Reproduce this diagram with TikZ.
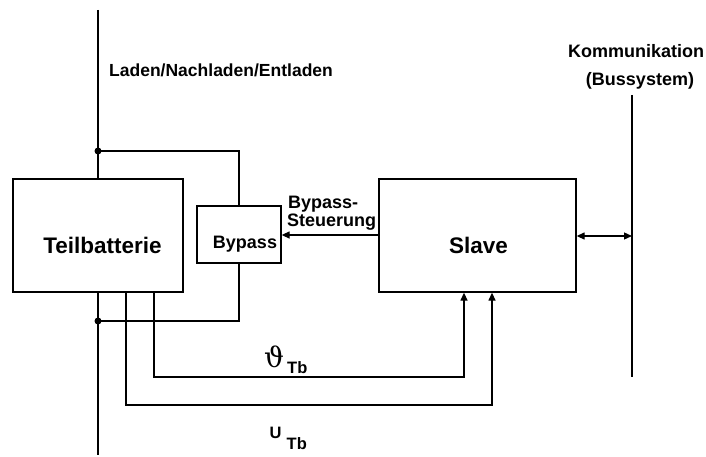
\documentclass[tikz,border=0pt]{standalone}
\usepackage{fontspec}
\setmainfont{Liberation Sans}
\newfontfamily\thetafont{DejaVu Serif}
\usetikzlibrary{arrows.meta}
\tikzset{
  box/.style={draw, line width=1.3pt, minimum width=#1, inner sep=0pt},
  lbl/.style={inner sep=0pt, anchor=base, font=\bfseries\fontsize{18}{21}\selectfont},
  wire/.style={line width=1.3pt},
  arr/.style={wire, -{Triangle[length=8pt,width=7pt]}},
  dot/.style={circle, fill=black, inner sep=0pt, minimum size=7pt}
}
\begin{document}
\begin{tikzpicture}[x=1pt,y=-1pt]
\useasboundingbox (0,0) rectangle (706,457);
% boxes
\node[box=170pt, minimum height=113pt] (teil) at (98,235.5) {};
\node[box=84pt, minimum height=57pt] (bypass) at (239,234.5) {};
\node[box=197pt, minimum height=113pt] (slave) at (477.5,235.5) {};
% box labels
\node[lbl, font=\bfseries\fontsize{22.5}{26}\selectfont] (teiltxt) at (102.5,253) {Teilbatterie};
\node[lbl] (bypasstxt) at (245,248) {Bypass};
\node[lbl, font=\bfseries\fontsize{22.5}{26}\selectfont] (slavetxt) at (478.5,253) {Slave};
% other texts
\node[lbl, anchor=base west, font=\bfseries\fontsize{17.5}{20}\selectfont] (laden) at (109,77) {Laden/Nachladen/Entladen};
\node[lbl, anchor=base west] (steuer1) at (288,208) {Bypass-};
\node[lbl, anchor=base west] (steuer2) at (287,226.5) {Steuerung};
\node[lbl] (komm) at (636,58) {Kommunikation};
\node[lbl] (bus) at (640,86) {(Bussystem)};
\node[inner sep=0pt, anchor=base west, font=\thetafont\fontsize{28}{30}\selectfont] (theta) at (264,367) {ϑ};
\node[lbl, anchor=base west, font=\bfseries\fontsize{16.5}{19}\selectfont] (thetasub) at (287,373.5) {Tb};
\node[lbl, anchor=base west, font=\bfseries\fontsize{16.5}{19}\selectfont] (u) at (269.5,438) {U};
\node[lbl, anchor=base west, font=\bfseries\fontsize{16.5}{19}\selectfont] (usub) at (286.5,449.5) {Tb};
% main supply line
\coordinate (supTop) at (98,10);
\coordinate (supBot) at (98,455);
\draw[wire] (supTop) -- (teil.north -| supTop);
\draw[wire] (teil.south -| supBot) -- (supBot);
% dots and bypass connection
\node[dot] (dTop) at (98,151) {};
\node[dot] (dBot) at (98,321) {};
\draw[wire] (dTop.center) -| (bypass.north);
\draw[wire] (dBot.center) -| (bypass.south);
% measurement lines
\coordinate (tA) at (154,377);
\coordinate (tB) at (464,377);
\coordinate (uA) at (126,405);
\coordinate (uB) at (492,405);
\draw[arr] (teil.south -| tA) -- (tA) -- (tB) -- (slave.south -| tB);
\draw[arr] (teil.south -| uA) -- (uA) -- (uB) -- (slave.south -| uB);
% bypass control
\draw[arr] (slave.west |- 0,235) coordinate (sW) -- (bypass.east |- sW);
% bus
\coordinate (busTop) at (632,95);
\coordinate (busBot) at (632,377);
\draw[wire] (busTop) -- (busBot);
\draw[wire, {Triangle[length=8pt,width=7pt]}-{Triangle[length=8pt,width=7pt]}] (slave.east |- 0,236) coordinate (sE) -- (busTop |- sE);
\end{tikzpicture}
\end{document}
